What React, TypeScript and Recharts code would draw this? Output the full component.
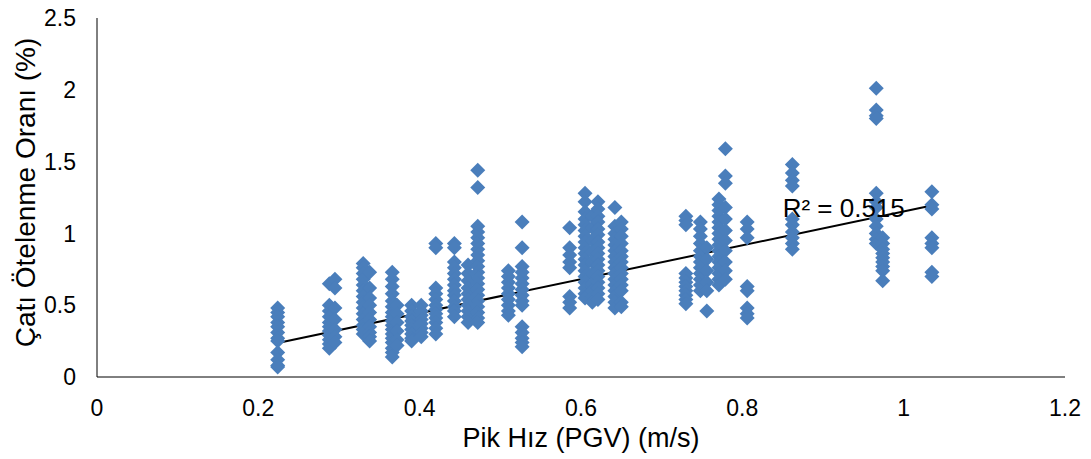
import { ScatterChart, Scatter, XAxis, YAxis, ReferenceLine, ReferenceDot } from 'recharts';

// PGV levels (m/s) and the roof drift ratios (%) recorded at each level
const pgvLevels = [
  0.224, 0.288, 0.295, 0.33, 0.338, 0.366, 0.372, 0.39, 0.402, 0.42, 0.443, 0.46, 0.472,
  0.51, 0.527, 0.586, 0.605, 0.614, 0.621, 0.642, 0.65, 0.73, 0.748, 0.756, 0.771, 0.779,
  0.806, 0.862, 0.966, 0.974, 1.035,
];

const driftByLevel = [
  [0.48, 0.45, 0.42, 0.38, 0.35, 0.31, 0.27, 0.25, 0.17, 0.12, 0.08, 0.07],
  [0.65, 0.5, 0.46, 0.42, 0.38, 0.35, 0.32, 0.29, 0.26, 0.23, 0.2],
  [0.68, 0.62, 0.48, 0.4, 0.33, 0.28, 0.24],
  [0.79, 0.76, 0.72, 0.68, 0.64, 0.6, 0.56, 0.52, 0.48, 0.44, 0.4, 0.36, 0.33, 0.3],
  [0.73, 0.62, 0.55, 0.5, 0.45, 0.4, 0.35, 0.31, 0.28, 0.25],
  [0.73, 0.68, 0.63, 0.58, 0.53, 0.49, 0.45, 0.42, 0.39, 0.36, 0.33, 0.3, 0.27, 0.24, 0.2, 0.17, 0.14],
  [0.5, 0.44, 0.38, 0.32, 0.26, 0.22],
  [0.5, 0.46, 0.42, 0.39, 0.36, 0.33, 0.3, 0.27, 0.25],
  [0.5, 0.46, 0.43, 0.4, 0.37, 0.34, 0.31, 0.28],
  [0.93, 0.9, 0.62, 0.58, 0.54, 0.5, 0.47, 0.44, 0.41, 0.38, 0.34, 0.3],
  [0.93, 0.9, 0.8, 0.76, 0.72, 0.68, 0.64, 0.6, 0.57, 0.53, 0.49, 0.46, 0.42],
  [0.78, 0.72, 0.67, 0.62, 0.58, 0.54, 0.5, 0.46, 0.42, 0.38],
  [1.44, 1.32, 1.05, 1.01, 0.97, 0.93, 0.89, 0.85, 0.81, 0.77, 0.73, 0.69, 0.65, 0.61, 0.57, 0.53, 0.49, 0.45, 0.41, 0.38],
  [0.74, 0.7, 0.66, 0.62, 0.58, 0.54, 0.5, 0.46, 0.43],
  [1.08, 0.9, 0.77, 0.73, 0.69, 0.65, 0.61, 0.57, 0.53, 0.5, 0.35, 0.31, 0.27, 0.24, 0.21],
  [1.04, 0.9, 0.85, 0.8, 0.76, 0.56, 0.52, 0.48],
  [1.28, 1.22, 1.15, 1.1, 1.06, 1.02, 0.98, 0.94, 0.9, 0.86, 0.82, 0.78, 0.74, 0.7, 0.66, 0.62, 0.58, 0.55],
  [1.12, 1.04, 0.95, 0.87, 0.8, 0.72, 0.65, 0.6, 0.56, 0.52],
  [1.22, 1.17, 1.12, 1.08, 1.03, 0.99, 0.94, 0.9, 0.86, 0.82, 0.78, 0.74, 0.7, 0.66, 0.62, 0.58, 0.54],
  [1.18, 1.05, 1.0, 0.96, 0.92, 0.88, 0.84, 0.8, 0.76, 0.72, 0.68, 0.64, 0.6, 0.56, 0.52, 0.48],
  [1.08, 1.03, 0.98, 0.93, 0.88, 0.84, 0.8, 0.76, 0.72, 0.68, 0.64, 0.6, 0.52, 0.49],
  [1.12, 1.09, 1.06, 0.72, 0.69, 0.66, 0.63, 0.6, 0.57, 0.54, 0.51],
  [1.08, 1.03, 0.98, 0.93, 0.88, 0.84, 0.8, 0.76, 0.72, 0.68, 0.64, 0.6],
  [0.9, 0.82, 0.74, 0.66, 0.6, 0.46],
  [1.24, 1.2, 1.16, 1.12, 1.08, 1.04, 1.0, 0.96, 0.92, 0.88, 0.84, 0.8, 0.76, 0.72, 0.68, 0.64],
  [1.59, 1.4, 1.35, 1.18, 1.1, 1.02, 0.95, 0.88, 0.8, 0.74, 0.68],
  [1.08, 1.03, 0.97, 0.63, 0.6, 0.48, 0.44, 0.41],
  [1.48, 1.42, 1.37, 1.33, 1.1, 1.06, 1.01, 0.97, 0.93, 0.89],
  [2.01, 1.86, 1.82, 1.8, 1.28, 1.22, 1.18, 1.1, 1.05, 1.0, 0.96, 0.93],
  [0.97, 0.93, 0.89, 0.86, 0.83, 0.8, 0.77, 0.74, 0.67],
  [1.29, 1.2, 1.17, 0.97, 0.93, 0.9, 0.73, 0.7],
];

const xTicks = [0, 0.2, 0.4, 0.6, 0.8, 1, 1.2];
const yTicks = [0, 0.5, 1, 1.5, 2, 2.5];

// linear trendline as shown on the figure
const trendSlope = 1.18;
const trendIntercept = -0.027;
const rSquaredText = 'R² = 0.515';

const points = pgvLevels.flatMap((x, i) => driftByLevel[i].map((y) => ({ x, y })));
const xMin = Math.min(...pgvLevels);
const xMax = Math.max(...pgvLevels);

const FONT = '"Liberation Sans", Arial, sans-serif';
const BLUE = '#4A7EBB';

const Diamond = (props: any) => {
  const { cx, cy } = props;
  const r = 7.5;
  return <polygon points={`${cx},${cy - r} ${cx + r},${cy} ${cx},${cy + r} ${cx - r},${cy}`} fill={BLUE} />;
};

const YTitle = (props: any) => {
  const { x, y, height } = props.viewBox;
  const cx = x + 25;
  const cy = y + height / 2 - 5;
  return (
    <text x={cx} y={cy} transform={`rotate(-90, ${cx}, ${cy})`} textAnchor="middle" dominantBaseline="central"
      fontFamily={FONT} fontSize={28} fill="#000">
      Çatı Ötelenme Oranı (%)
    </text>
  );
};

export default function App() {
  return (
    <div style={{ position: 'absolute', left: 0, top: 0, background: '#fff' }}>
      <ScatterChart width={1091} height={459} margin={{ top: 18, right: 26, bottom: 0, left: 0 }}>
        <XAxis type="number" dataKey="x" domain={[0, 1.2]} ticks={xTicks} height={82}
          axisLine={{ stroke: '#000' }} tickLine={false} tickSize={0} tickMargin={23}
          tick={{ fontFamily: FONT, fontSize: 23, fill: '#000' }}
          label={{ value: 'Pik Hız (PGV) (m/s)', position: 'insideBottom', offset: 12, fontFamily: FONT, fontSize: 27, fill: '#000' }} />
        <YAxis type="number" dataKey="y" domain={[0, 2.5]} ticks={yTicks} width={97}
          axisLine={{ stroke: '#000' }} tickLine={false} tickSize={0} tickMargin={21}
          tick={{ fontFamily: FONT, fontSize: 23, fill: '#000' }}
          label={<YTitle />} />
        <Scatter data={points} shape={<Diamond />} isAnimationActive={false} />
        <ReferenceLine
          segment={[
            { x: xMin, y: trendSlope * xMin + trendIntercept },
            { x: xMax, y: trendSlope * xMax + trendIntercept },
          ]}
          stroke="#000" strokeWidth={2} />
        <ReferenceDot x={0.85} y={1.18} r={0} stroke="none" fill="none"
          label={{ value: rSquaredText, position: 'right', offset: 0, fontFamily: FONT, fontSize: 26, fill: '#000' }} />
      </ScatterChart>
    </div>
  );
}
